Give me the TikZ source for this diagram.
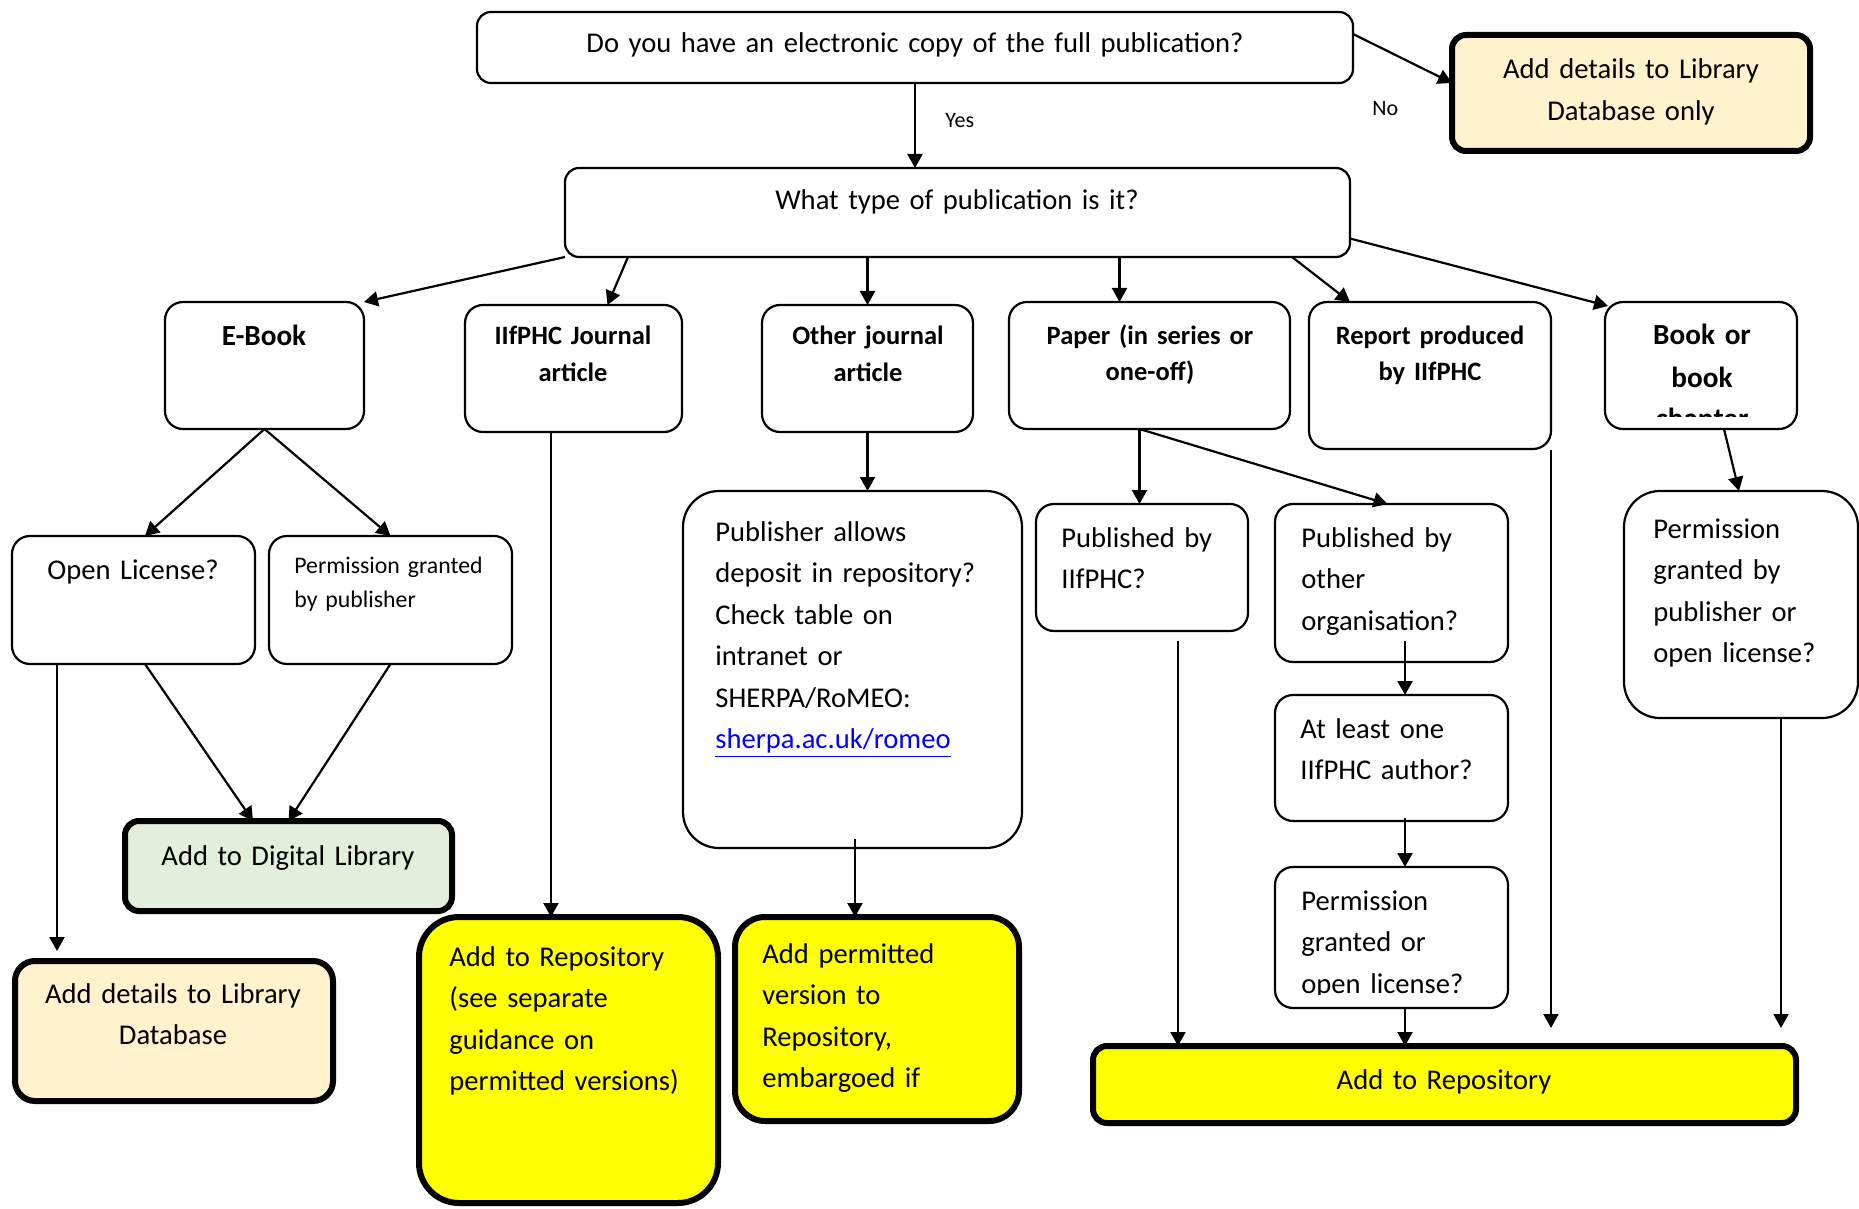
\documentclass[tikz,border=0pt]{standalone}
\usepackage{fontspec}
\setmainfont{Carlito}
\usetikzlibrary{arrows.meta,calc}
\definecolor{cream}{HTML}{FFF2CC}
\definecolor{lgreen}{HTML}{E2EFDA}
\definecolor{yel}{HTML}{FFFF00}
\definecolor{linkblue}{HTML}{0000FF}
\newcommand\fbody{\fontsize{14.3}{20.75}\selectfont}
\newcommand\fhead{\bfseries\fontsize{13.25}{18.4}\selectfont}
\newcommand\fbig{\bfseries\fontsize{14.6}{21}\selectfont}
\newcommand\fsmall{\fontsize{11.9}{17}\selectfont}
\newcommand\flabel{\fontsize{11}{13}\selectfont}
\newcommand\drawbox[6]{\node[#6, minimum width={(#4-#2)*0.5pt}, minimum height={(#5-#3)*0.5pt}] (#1) at ({(#2+#4)/2},{(#3+#5)/2}) {};}
\begin{document}
\begin{tikzpicture}[x=0.5pt,y=-0.5pt,
 thinbox/.style={draw=black, line width=1.1pt, rounded corners=7pt, inner sep=0pt, outer sep=0pt},
 thickbox/.style={draw=black, line width=3pt, rounded corners=7pt, inner sep=0pt, outer sep=0pt},
 arr/.style={-{Triangle[length=7pt,width=7.5pt]}, line width=1.1pt},
 ltxt/.style={inner sep=0pt, anchor=base west, align=left, text width=240pt, font=\fbody},
 ctxt/.style={inner sep=0pt, anchor=base, align=center, font=\fbody},
]
\useasboundingbox (0,0) rectangle (1859,1209);
\clip (0,0) rectangle (1859,1209);
% boxes
\drawbox{top}{477}{12}{1353}{83}{thinbox}
\drawbox{libonly}{1452}{35}{1810}{151}{thickbox, fill=cream}
\drawbox{what}{565}{168}{1350}{257}{thinbox}
\drawbox{ebook}{165}{302}{364}{429}{thinbox, rounded corners=9pt}
\drawbox{ijour}{465}{305}{682}{432}{thinbox, rounded corners=9pt}
\drawbox{other}{762}{305}{973}{432}{thinbox, rounded corners=9pt}
\drawbox{paper}{1009}{302}{1290}{429}{thinbox, rounded corners=9pt}
\drawbox{report}{1309}{302}{1551}{449}{thinbox, rounded corners=9pt}
\drawbox{book}{1605}{302}{1797}{429}{thinbox, rounded corners=9pt}
\drawbox{openlic}{12}{536}{255}{664}{thinbox, rounded corners=9pt}
\drawbox{permpub}{269}{536}{512}{664}{thinbox, rounded corners=9pt}
\drawbox{pubrep}{683}{491}{1022}{848}{thinbox, rounded corners=18pt}
\drawbox{pubiif}{1036}{504}{1248}{631}{thinbox, rounded corners=9pt}
\drawbox{puboth}{1275}{504}{1508}{662}{thinbox, rounded corners=9pt}
\drawbox{atleast}{1275}{695}{1508}{821}{thinbox, rounded corners=9pt}
\drawbox{permgr}{1275}{867}{1508}{1008}{thinbox, rounded corners=9pt}
\drawbox{permbk}{1624}{491}{1858}{718}{thinbox, rounded corners=18pt}
\drawbox{dlib}{125}{821}{452}{911}{thickbox, fill=lgreen}
\drawbox{libdb}{15}{961}{333}{1101}{thickbox, fill=cream, rounded corners=10pt}
\drawbox{repo1}{419}{917}{718}{1203}{thickbox, fill=yel, rounded corners=20pt}
\drawbox{addperm}{735}{917}{1019}{1121}{thickbox, fill=yel, rounded corners=15pt}
\drawbox{repo2}{1093}{1046}{1796}{1123}{thickbox, fill=yel}
% connectors
\draw[arr] (top.south) -- (top.south |- what.north);
\draw[arr] ([yshift=-11pt]top.north east) -- ([yshift=5pt]libonly.west);
\draw[arr] (what.south west) -- (ebook.north east);
\draw[arr] ([xshift=31.5pt]what.south west) -- ([xshift=17pt]ijour.north);
\draw[arr] (other.north |- what.south) -- (other.north);
\coordinate (p1) at ([xshift=-15pt]paper.north);
\draw[arr] (p1 |- what.south) -- (p1);
\draw[arr] ([xshift=-29pt]what.south east) -- ([xshift=-40pt]report.north);
\draw[arr] ([yshift=-13pt]what.east) -- ([xshift=1.5pt,yshift=-2pt]book.north west);
\draw[arr] (ebook.south) -- ([xshift=5.75pt]openlic.north);
\draw[arr] (ebook.south) -- (permpub.north);
\draw[arr] ([xshift=5.75pt]openlic.south) -- ([xshift=-17.75pt]dlib.north);
\draw[arr] (permpub.south) -- (dlib.north);
\coordinate (c1) at ([xshift=-38.25pt]openlic.south);
\draw[arr, shorten >=5pt] (c1) -- (c1 |- libdb.north);
\coordinate (c2) at ([xshift=-11.25pt]ijour.south);
\draw[arr] (c2) -- (c2 |- repo1.north);
\draw[arr] (other.south) -- (other.south |- pubrep.north);
\coordinate (c3) at ([xshift=1.25pt,yshift=4.5pt]pubrep.south);
\draw[arr] (c3) -- (c3 |- addperm.north);
\coordinate (c4) at ([xshift=-5pt]paper.south);
\draw[arr] (c4) -- (c4 |- pubiif.north);
\draw[arr] (c4) -- ([xshift=-2pt]puboth.north);
\coordinate (c5) at ([xshift=18pt,yshift=-5pt]pubiif.south);
\draw[arr] (c5) -- (c5 |- repo2.north);
\coordinate (c6) at ([xshift=6.75pt,yshift=10.5pt]puboth.south);
\draw[arr] (c6) -- (c6 |- atleast.north);
\coordinate (c7) at ([xshift=6.75pt,yshift=1.5pt]atleast.south);
\draw[arr] (c7) -- (c7 |- permgr.north);
\coordinate (c8) at ([xshift=6.75pt]permgr.south);
\draw[arr] (c8) -- (c8 |- repo2.north);
\coordinate (c10) at ([yshift=-0.5pt]report.south east);
\draw[arr, shorten >=9pt] (c10) -- (c10 |- repo2.north);
\draw[arr] ([xshift=11.5pt]book.south) -- ([xshift=-1pt]permbk.north);
\coordinate (c9) at ([xshift=20pt]permbk.south);
\draw[arr, shorten >=9pt] (c9) -- (c9 |- repo2.north);
% texts
\node[ctxt, text width=420pt] (ttop) at (915,53) {Do you have an electronic copy of the full publication?};
\node[ctxt, text width=170pt] (tlib) at (1631,79) {Add details to Library\\Database only};
\node[ctxt, text width=380pt] (twhat) at (957,210) {What type of publication is it?};
\node[font=\flabel, anchor=base west, inner sep=0pt] (yes) at (945,128) {Yes};
\node[font=\flabel, anchor=base west, inner sep=0pt] (no) at (1372,116) {No};
\node[ctxt, font=\fbig, text width=90pt] (tebook) at (264,346) {E-Book};
\node[ctxt, font=\fhead, text width=105pt] (tijour) at (573,345) {IIfPHC Journal\\article};
\node[ctxt, font=\fhead, text width=105pt] (tother) at (868,345) {Other journal\\article};
\node[ctxt, font=\fhead, text width=135pt] (tpaper) at (1150,344) {Paper (in series or\\one-off)};
\node[ctxt, font=\fhead, text width=120pt] (treport) at (1430,344) {Report produced\\by IIfPHC};
\begin{scope}
\clip (1605,302) rectangle (1797,416);
\node[ctxt, font=\fbig, text width=95pt] (tbook) at (1702,345) {Book or\\book\\chapter};
\end{scope}
\node[ctxt, text width=120pt] (topen) at (133,579) {Open License?};
\node[ltxt, font=\fsmall] (tpermpub) at (294,573) {Permission granted\\by publisher};
\node[ltxt] (tpubrep) at (715,541) {Publisher allows\\deposit in repository?\\Check table on\\intranet or\\SHERPA/RoMEO:\\\textcolor{linkblue}{\underline{sherpa.ac.uk/romeo}}};
\node[ltxt] (tpubiif) at (1061,547) {Published by\\IIfPHC?};
\node[ltxt] (tpuboth) at (1301,547) {Published by\\other\\organisation?};
\node[ltxt] (tatleast) at (1300,738) {At least one\\IIfPHC author?};
\begin{scope}
\clip (1275,867) rectangle (1508,994);
\node[ltxt] (tpermgr) at (1301,910) {Permission\\granted or\\open license?};
\end{scope}
\node[ltxt] (tpermbk) at (1653,538) {Permission\\granted by\\publisher or\\open license?};
\node[ctxt, text width=160pt] (tdlib) at (288,865) {Add to Digital Library};
\node[ctxt, text width=160pt] (tlibdb) at (173,1003) {Add details to Library\\Database};
\node[ltxt] (trepo1) at (449,966) {Add to Repository\\(see separate\\guidance on\\permitted versions)};
\node[ltxt] (taddperm) at (762,963) {Add permitted\\version to\\Repository,\\embargoed if};
\node[ctxt, text width=200pt] (trepo2) at (1444,1089) {Add to Repository};
\end{tikzpicture}
\end{document}
